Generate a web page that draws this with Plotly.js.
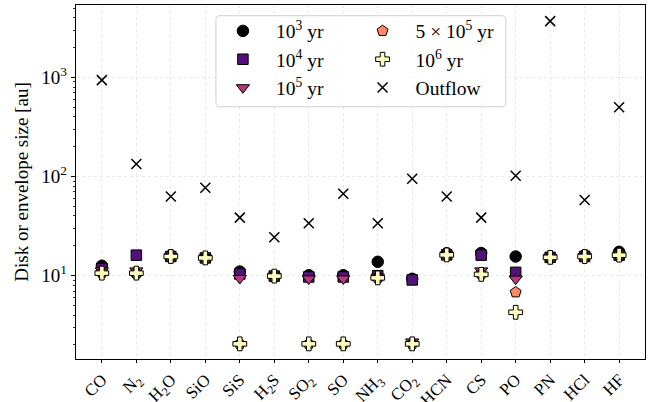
<!DOCTYPE html>
<html>
<head>
<meta charset="utf-8">
<script src="https://cdn.plot.ly/plotly-3.0.1.min.js"></script>
<style>html,body{margin:0;padding:0;background:#fff;}#chart{width:664px;height:402px;}</style>
</head>
<body>
<div id="chart"></div>
<script>
const molecules = ['CO','N2','H2O','SiO','SiS','H2S','SO2','SO','NH3','CO2','HCN','CS','PO','PN','HCl','HF'];
const moleculeLabels = ['CO','N<sub>2</sub>','H<sub>2</sub>O','SiO','SiS','H<sub>2</sub>S','SO<sub>2</sub>','SO','NH<sub>3</sub>','CO<sub>2</sub>','HCN','CS','PO','PN','HCl','HF'];

const size1e3  = [12.6, 10.6, 15.9, 15.2, 11.0, 9.9, 10.1, 10.1, 13.8, 9.3, 16.8, 16.9, 15.6, 15.3, 16.1, 17.4];
const size1e4  = [11.8, 16.1, 15.6, 15.1, 10.4, 9.9, 9.7, 9.7, 10.0, 9.05, 16.2, 16.1, 10.8, 15.3, 15.6, 16.1];
const size1e5  = [11.2, 11.2, 15.6, 15.1, 9.4, 9.9, 9.3, 9.3, 9.7, 2.15, 16.2, 11.2, 9.26, 15.3, 15.6, 16.1];
const size5e5  = [10.7, 10.6, 15.6, 15.1, 2.05, 9.9, 2.05, 2.05, 9.5, 2.05, 16.2, 10.4, 6.8, 15.3, 15.6, 16.1];
const size1e6  = [10.6, 10.6, 15.6, 15.1, 2.05, 9.9, 2.05, 2.05, 9.5, 2.05, 16.2, 10.3, 4.27, 15.3, 15.6, 16.1];
const outflow  = [940, 134, 63, 77, 38.5, 24.4, 33.8, 67, 33.8, 95, 63, 38.5, 102, 3700, 58, 500];

const seriesNames = ['10<sup>3</sup> yr','10<sup>4</sup> yr','10<sup>5</sup> yr','5 × 10<sup>5</sup> yr','10<sup>6</sup> yr','Outflow'];
const yTickVals = [10, 100, 1000];
const yTickText = ['10<sup>1</sup>','10<sup>2</sup>','10<sup>3</sup>'];

const FONT = 'Liberation Serif, DejaVu Serif, serif';
const edge = {color:'#000', width:1};

function mk(y, name, symbol, color, size, legend){
  return {x: molecules, y: y, name: name, type:'scatter', mode:'markers',
    legend: legend,
    marker:{symbol: symbol, color: color, size: size, line: edge}};
}

const traces = [
  mk(size1e3, seriesNames[0], 'circle', '#000004', 11.5, 'legend'),
  mk(size1e4, seriesNames[1], 'square', '#51127c', 10.5, 'legend'),
  mk(size1e5, seriesNames[2], 'triangle-down', '#b73779', 11.5, 'legend'),
  mk(size5e5, seriesNames[3], 'pentagon', '#fc8961', 11.5, 'legend2'),
  mk(size1e6, seriesNames[4], 'cross', '#fcfdbf', 11.5, 'legend2'),
  {x: molecules, y: outflow, name: seriesNames[5], type:'scatter', mode:'markers', legend:'legend2',
   marker:{symbol:'x-thin', size:10, color:'#000', line:{color:'#000', width:1.5}}}
];

const L = 76, R = 645.3, T = 5.3, B = 359;
const px = v => (v - L) / (R - L);
const py = v => (B - v) / (B - T);
function roundRect(x0, y0, x1, y1, r){
  const a = px(x0), b = px(x1), c = py(y0), d = py(y1);
  const rx = r / (R - L), ry = r / (B - T);
  return `M ${a+rx},${c} L ${b-rx},${c} Q ${b},${c} ${b},${c-ry} L ${b},${d+ry} Q ${b},${d} ${b-rx},${d} L ${a+rx},${d} Q ${a},${d} ${a},${d+ry} L ${a},${c-ry} Q ${a},${c} ${a+rx},${c} Z`;
}

const legendCommon = {
  bgcolor:'rgba(0,0,0,0)', borderwidth:0, font:{family:FONT, size:19.5, color:'#000'},
  orientation:'v', xanchor:'left', yanchor:'top', itemwidth:56, tracegroupgap:0
};

const layout = {
  width:664, height:402,
  margin:{l:L, r:664-R, t:T, b:402-B, pad:0},
  paper_bgcolor:'#fff', plot_bgcolor:'#fff',
  font:{family:FONT, size:18, color:'#000'},
  showlegend:true,
  legend: Object.assign({}, legendCommon, {x: px(210), y: py(12)}),
  legend2: Object.assign({}, legendCommon, {x: px(349.7), y: py(12)}),
  xaxis:{
    type:'category', range:[-0.75, 15.75],
    tickmode:'array', tickvals: molecules, ticktext: moleculeLabels,
    tickangle:-45, ticks:'outside', ticklen:3, tickwidth:1, tickcolor:'#000',
    showline:true, linecolor:'#000', linewidth:1.2, mirror:true,
    showgrid:true, gridcolor:'#e4e4e4', gridwidth:0.8, griddash:'dot',
    zeroline:false, tickfont:{family:FONT, size:17, color:'#000'}
  },
  yaxis:{
    type:'log', range:[0.159, 3.731],
    tickmode:'array', tickvals: yTickVals, ticktext: yTickText,
    ticks:'outside', ticklen:4, tickwidth:1, tickcolor:'#000',
    minor:{ticks:'outside', ticklen:2, tickwidth:0.8, tickcolor:'#000', showgrid:false,
      tickmode:'array', tickvals:[2,3,4,5,6,7,8,9,20,30,40,50,60,70,80,90,200,300,400,500,600,700,800,900,2000,3000,4000,5000]},
    showline:true, linecolor:'#000', linewidth:1.2, mirror:true,
    showgrid:true, gridcolor:'#e4e4e4', gridwidth:0.8, griddash:'dot',
    zeroline:false, tickfont:{family:FONT, size:19, color:'#000'},
    title:{text:'Disk or envelope size [au]', font:{family:FONT, size:19, color:'#000'}, standoff:7}
  },
  shapes:[{
    type:'path', xref:'paper', yref:'paper', layer:'above',
    path: roundRect(216, 16, 506, 107, 4),
    fillcolor:'rgba(255,255,255,0.8)', line:{color:'#d0d0d0', width:1}
  }]
};

Plotly.newPlot('chart', traces, layout, {staticPlot:true, displayModeBar:false});
</script>
</body>
</html>
